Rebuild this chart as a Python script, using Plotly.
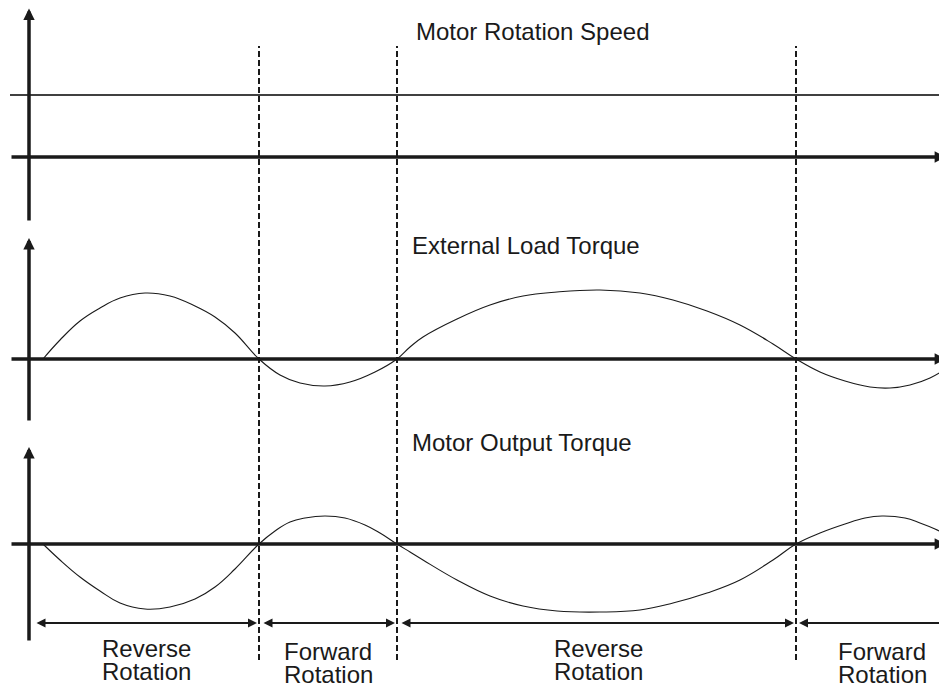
import plotly.graph_objects as go

# ---------------- data (time in arbitrary units, values in arbitrary units) -------------
speed_t = [10, 947]
speed_v = [62, 62]

load_t = [43, 60, 80, 100, 120, 145, 170, 195, 215, 235, 259,
          280, 300, 325, 350, 375, 397,
          410, 423, 457, 490, 523, 557, 600, 640, 673, 707, 740, 773, 796,
          820, 845, 870, 890, 910, 930, 947]
load_v = [0, 19, 38, 51, 61, 66, 63, 53, 42, 26, 0,
          -16, -24, -27, -23, -13, 0,
          12, 22, 40, 54, 63, 67, 69, 66, 59, 48, 34, 15, 0,
          -13, -22, -28, -29, -26, -19, -9]

out_t = [43, 60, 80, 100, 120, 145, 170, 195, 215, 235, 259,
         275, 290, 305, 325, 345, 365, 380, 397,
         410, 423, 457, 490, 523, 557, 600, 640, 673, 707, 740, 773, 796,
         820, 845, 865, 882, 905, 920, 935, 947]
out_v = [0, -16, -33, -47, -59, -65, -63, -55, -43, -25, 0,
         13, 22, 26, 28, 26, 19, 11, 0,
         -8, -16, -36, -52, -62, -67, -68, -66, -59, -49, -36, -16, 0,
         11, 20, 26, 28, 26, 21, 15, 9]

boundaries = [259, 397, 796]

titles = ["Motor Rotation Speed", "External Load Torque", "Motor Output Torque"]

seg_start = [35, 262, 400, 799]
seg_end = [257, 395, 794, 946]
seg_line1 = ["Reverse", "Forward", "Reverse", "Forward"]
seg_line2 = ["Rotation", "Rotation", "Rotation", "Rotation"]
seg_center = [146, 328, 598, 882]

# ---------------- figure ----------------
INK = "#1a1a1a"
FONT = dict(family="Liberation Sans, Arial, sans-serif", size=24, color=INK)

fig = go.Figure()
fig.add_trace(go.Scatter(x=speed_t, y=speed_v, mode="lines", yaxis="y",
                         line=dict(color="#000000", width=1.4), hoverinfo="skip"))
fig.add_trace(go.Scatter(x=load_t, y=load_v, mode="lines", yaxis="y2",
                         line=dict(color=INK, width=1.1, shape="spline", smoothing=1.2),
                         hoverinfo="skip"))
fig.add_trace(go.Scatter(x=out_t, y=out_v, mode="lines", yaxis="y3",
                         line=dict(color=INK, width=1.1, shape="spline", smoothing=1.2),
                         hoverinfo="skip"))

# the page body has an 8px margin: the plot occupies page pixels 8..947 x 8..690
ax_common = dict(visible=False, fixedrange=True)
H = 682
fig.update_layout(
    width=939, height=H, autosize=False,
    margin=dict(l=0, r=0, t=0, b=0),
    paper_bgcolor="white", plot_bgcolor="white",
    showlegend=False,
    xaxis=dict(range=[8, 947], domain=[0, 1], **ax_common),
    yaxis=dict(range=[-73, 149], domain=[1 - 222 / H, 1], anchor="x", **ax_common),
    yaxis2=dict(range=[-71, 129], domain=[1 - 422 / H, 1 - 222 / H], anchor="x", **ax_common),
    yaxis3=dict(range=[-146, 114], domain=[0, 1 - 422 / H], anchor="x", **ax_common),
)

annotations = []
shapes = []

# axes drawn as arrows: (yref, vertical bottom, vertical tip)
panel_axes = [("y", -65, 148.5), ("y2", -63, 121), ("y3", -98, 97)]
for yref, ybot, ytip in panel_axes:
    annotations.append(dict(x=946, y=0, ax=10, ay=0, xref="x", yref=yref,
                            axref="x", ayref=yref, text="", showarrow=True,
                            arrowhead=2, arrowsize=0.65, arrowwidth=3.5,
                            arrowcolor=INK, standoff=0))
    annotations.append(dict(x=29, y=ytip, ax=29, ay=ybot, xref="x", yref=yref,
                            axref="x", ayref=yref, text="", showarrow=True,
                            arrowhead=2, arrowsize=0.65, arrowwidth=3.5,
                            arrowcolor=INK, standoff=0))

# panel titles
title_pos = [("y", 126, 414), ("y2", 113, 410), ("y3", 102, 410)]
for (yref, yv, xv), txt in zip(title_pos, titles):
    annotations.append(dict(x=xv, y=yv, xref="x", yref=yref, text=txt,
                            showarrow=False, xanchor="left", yanchor="middle",
                            font=FONT))

# dashed boundaries spanning all panels
for b in boundaries:
    shapes.append(dict(type="line", xref="x", yref="paper", x0=b, x1=b,
                       y0=1 - (660 - 8) / H, y1=1 - (46 - 8) / H,
                       line=dict(color=INK, width=2, dash="6px,3px")))

# rotation interval arrows + labels (panel 3 coordinates)
arrow_y = -79
for i, (s, e) in enumerate(zip(seg_start, seg_end)):
    last = i == len(seg_start) - 1
    if last:
        annotations.append(dict(x=s, y=arrow_y, ax=e, ay=arrow_y, xref="x", yref="y3",
                                axref="x", ayref="y3", text="", showarrow=True,
                                arrowhead=2, arrowsize=0.9, arrowwidth=2,
                                arrowcolor=INK, standoff=0))
        shapes.append(dict(type="line", xref="x", yref="y3", x0=e, x1=e,
                           y0=arrow_y - 6, y1=arrow_y + 6,
                           line=dict(color=INK, width=1.5)))
    else:
        annotations.append(dict(x=e, y=arrow_y, ax=s, ay=arrow_y, xref="x", yref="y3",
                                axref="x", ayref="y3", text="", showarrow=True,
                                arrowhead=2, startarrowhead=2, arrowside="end+start",
                                arrowsize=0.9, startarrowsize=0.9, arrowwidth=2,
                                arrowcolor=INK, standoff=0, startstandoff=0))
    dy = 0 if seg_line1[i] == "Reverse" else -3
    annotations.append(dict(x=seg_center[i], y=-104 + dy, xref="x", yref="y3",
                            text=seg_line1[i], showarrow=False, xanchor="center",
                            yanchor="middle", font=FONT))
    annotations.append(dict(x=seg_center[i], y=-127 + dy, xref="x", yref="y3",
                            text=seg_line2[i], showarrow=False, xanchor="center",
                            yanchor="middle", font=FONT))

fig.update_layout(annotations=annotations, shapes=shapes)
fig.write_html("out.html", config=dict(displayModeBar=False, staticPlot=True))
